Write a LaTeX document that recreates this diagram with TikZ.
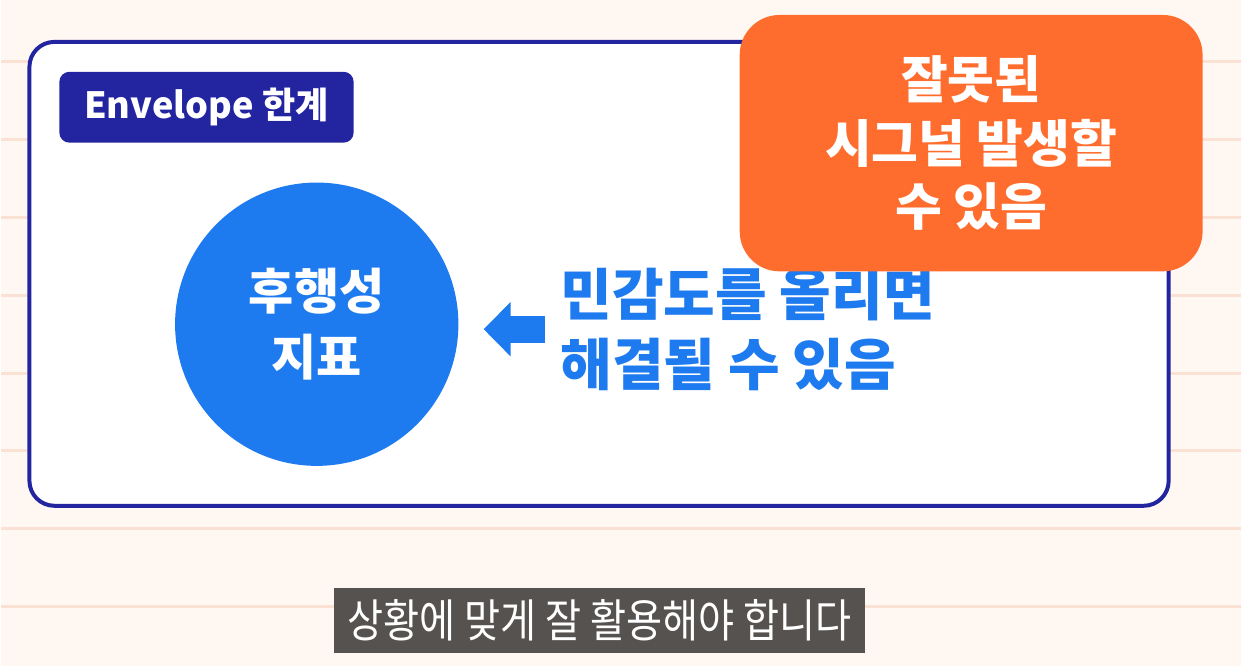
\documentclass[tikz,border=0pt]{standalone}
\usepackage{fontspec}
\usepackage{graphicx}
\usepackage{xcolor}
\usepackage{tikz}
\usetikzlibrary{arrows.meta,positioning,calc}
\setmainfont{Noto Sans CJK KR}
\newfontfamily\heavyfont{Noto Sans CJK KR}[UprightFont=* Black]
\definecolor{noteBg}{HTML}{FFF8F2}
\definecolor{noteLine}{HTML}{FBE1D3}
\definecolor{envNavy}{HTML}{22259F}
\definecolor{envBlue}{HTML}{1E7BEF}
\definecolor{envOrange}{HTML}{FF6D2E}
\definecolor{subGray}{HTML}{55524F}

\begin{document}
\begin{tikzpicture}[
        panel/.style={draw=envNavy, line width=0.08cm, rounded corners=0.5cm, fill=white, minimum width=22.84cm, minimum height=9.3cm},
        tag/.style={fill=envNavy, rounded corners=0.2cm, minimum width=5.9cm, minimum height=1.42cm, text=white, font=\heavyfont\fontsize{20.6pt}{24pt}\selectfont},
        lagdot/.style={circle, fill=envBlue, minimum size=5.68cm, inner sep=0pt, text=white, align=center, font=\heavyfont\fontsize{28pt}{38pt}\selectfont},
        fixtext/.style={anchor=west, inner sep=0pt, text=envBlue, align=left, font=\heavyfont\fontsize{32pt}{39.7pt}\selectfont},
        warnbox/.style={fill=envOrange, rounded corners=0.8cm, minimum width=9.28cm, minimum height=5.14cm, text=white, align=center, font=\heavyfont\fontsize{29pt}{36.3pt}\selectfont},
        subbox/.style={fill=subGray, minimum width=10.66cm, minimum height=1.32cm, inner sep=0pt, text=white, font=\fontsize{26pt}{28pt}\selectfont},
        bigarrow/.style={draw=envBlue, line width=0.54cm, -{Triangle[length=0.54cm, width=1.06cm]}}
    ]
        % paper background
        \fill[noteBg] (0,0) rectangle (24.84,-13.36);
        \foreach \ly in {1.24,2.8,4.36,5.92,7.48,9.04,10.6,12.16}
            \draw[noteLine, line width=0.06cm] (0,-\ly) -- (24.84,-\ly);
        \useasboundingbox (0,0) rectangle (24.84,-13.36);

        \node[panel] (panel) at (11.98,-5.49) {};
        \node[tag] (limit) at (4.11,-2.15) {Envelope 한계};
        \node[lagdot] (lag) at (6.32,-6.5) {후행성\\지표};
        \node[fixtext] (fix) at (11.2,-6.6) {민감도를 올리면\\해결될 수 있음};
        \node[warnbox] (warn) at (19.44,-2.87) {잘못된\\시그널 발생할\\수 있음};
        \node[subbox] (caption) at (11.99,-12.44) {\scalebox{0.86}[1]{상황에 맞게 잘 활용해야 합니다}};

        \draw[bigarrow, shorten <=0.3cm, shorten >=0.5cm] (fix.west) -- (fix.west -| lag.east);
    \end{tikzpicture}
\end{document}
